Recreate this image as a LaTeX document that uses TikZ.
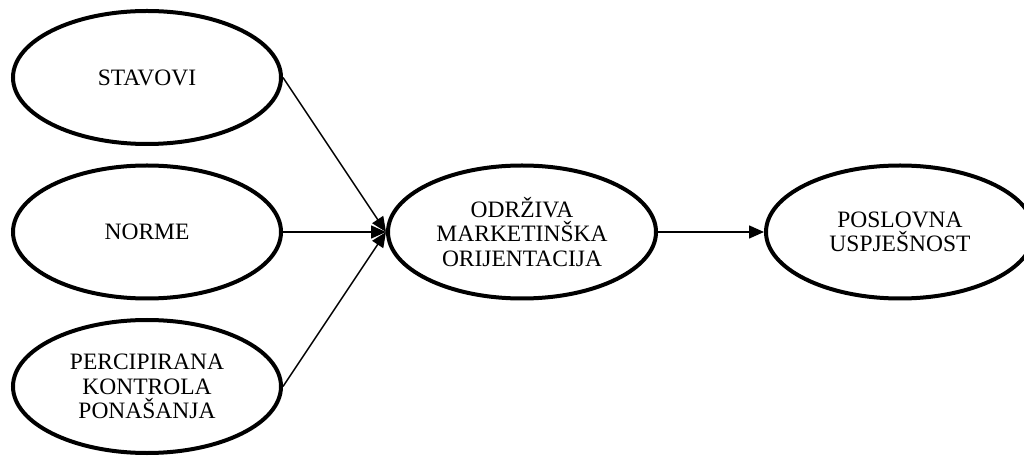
\documentclass[tikz,border=0pt]{standalone}
\usepackage{fontspec}
\setmainfont{Liberation Serif}
\usepackage{tikz}
\usetikzlibrary{shapes,arrows.meta,positioning}
\tikzstyle{elip}=[ellipse, draw=black, line width=4, minimum width=268pt, minimum height=133pt, inner sep=0pt, align=center, font=\fontsize{23.5}{24.5}\selectfont]
\tikzstyle{l1}=[line width=1.5, -{Triangle[length=15pt,width=13pt]}]

\begin{document}
\begin{tikzpicture}[x=1pt, y=1pt]
    \useasboundingbox (0,0) rectangle (1024,455);
    \node[elip] at (147, 377.5) (stav) {STAVOVI};
    \node[elip] at (147, 223) (norme) {NORME};
    \node[elip] at (147, 68.5) (perc) {PERCIPIRANA\\KONTROLA\\PONAŠANJA};
    \node[elip] at (522, 223) (odr) {ODRŽIVA\\MARKETINŠKA\\ORIJENTACIJA};
    \node[elip] at (900, 223) (posl) {POSLOVNA\\USPJEŠNOST};

    \draw[l1] (stav.east) -- (odr.west);
    \draw[l1] (norme.east) -- (odr.west);
    \draw[l1] (perc.east) -- (odr.west);
    \draw[l1] (odr) -- (posl);
\end{tikzpicture}
\end{document}
